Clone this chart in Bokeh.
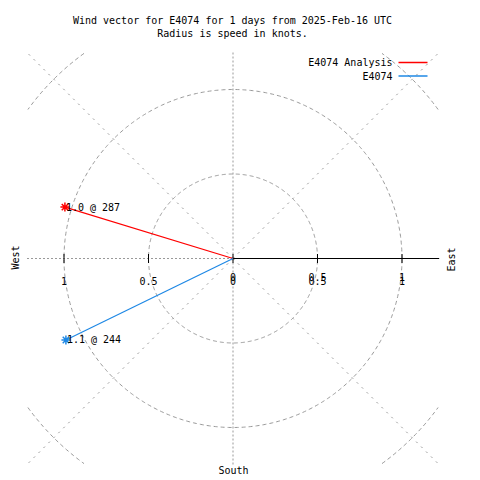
import math
from bokeh.plotting import figure
from bokeh.models import Label, ColumnDataSource
from bokeh.core.properties import value
from bokeh.embed import file_html
from bokeh.resources import INLINE

# ---- data ----
series_names = ["E4074 Analysis", "E4074"]
speeds = [1.04, 1.1]          # knots
directions = [287, 244]       # degrees (compass bearing)
series_colors = ["#ff0000", "#1e88e5"]

ring_radii = [0.5, 1.0, 1.5]
spoke_bearings = [0, 45, 90, 135, 180, 225, 270, 315]
left_tick_values = [-1.0, -0.5, 0.0]
right_tick_values = [0.0, 0.5, 1.0]
left_tick_labels = ["1", "0.5", "0"]
right_tick_labels = ["0", "0.5", "1"]

title_lines = ["Wind vector for E4074 for 1 days from 2025-Feb-16 UTC",
               "Radius is speed in knots."]
compass_labels = ["West", "East", "South"]

# ---- layout ----
W = H = 480
PX = 169.0            # pixels per knot
CX, CY = 232.5, 258   # centre of the rose in canvas pixels
B = 1.22              # half-size of the clipping box (knots)
FONT = value("DejaVu Sans Mono")
GRID = "#999999"

def dx(px):
    return (px - CX) / PX

def dy(py):
    return (CY - py) / PX

p = figure(width=W, height=H, x_range=(dx(0), dx(W)), y_range=(dy(H), dy(0)),
           x_axis_type=None, y_axis_type=None, output_backend="svg",
           toolbar_location=None, min_border=0)
p.grid.visible = False
p.outline_line_color = None
p.background_fill_color = "white"

# rings, clipped to the square box
ring_xs, ring_ys = [], []
for r in ring_radii:
    runs, cur = [], []
    for k in range(0, 721):
        a = math.radians(k * 0.5)
        x, y = r * math.cos(a), r * math.sin(a)
        if abs(x) <= B and abs(y) <= B:
            cur.append((x, y))
        else:
            if len(cur) > 1:
                runs.append(cur)
            cur = []
    if len(cur) > 1:
        runs.append(cur)
    for run in runs:
        ring_xs.append([q[0] for q in run])
        ring_ys.append([q[1] for q in run])
p.multi_line(xs=ring_xs, ys=ring_ys, line_color=GRID, line_dash="4 3", line_width=1)

# spokes to box edge (orthogonal and diagonal drawn with different dashes)
ortho = {"x": [], "y": []}
diag = {"x": [], "y": []}
for b in spoke_bearings:
    s, c = math.sin(math.radians(b)), math.cos(math.radians(b))
    t = B / max(abs(s), abs(c))
    tgt = ortho if b % 90 == 0 else diag
    tgt["x"].append(t * s)
    tgt["y"].append(t * c)
p.segment(x0=[0] * len(ortho["x"]), y0=[0] * len(ortho["y"]), x1=ortho["x"], y1=ortho["y"],
          line_color=GRID, line_dash="2 2", line_width=1)
p.segment(x0=[0] * len(diag["x"]), y0=[0] * len(diag["y"]), x1=diag["x"], y1=diag["y"],
          line_color=GRID, line_dash="2 5", line_width=1)

# black axis to the east
p.segment(x0=[0], y0=[0], x1=[B], y1=[0], line_color="black", line_width=1.2)

# ticks
ticks_all = sorted(set(left_tick_values + right_tick_values))
p.scatter(x=ticks_all, y=[0] * len(ticks_all), marker="dash", angle=math.pi / 2,
          size=9, line_color="black", line_width=1)

# tick labels (set A: all positions, set B: east side, slightly higher)
a_x = left_tick_values + right_tick_values[1:]
a_t = left_tick_labels + right_tick_labels[1:]
p.text(x=a_x, y=[0] * len(a_x), text=a_t, text_font=FONT, text_font_size="10px",
       text_align="center", text_baseline="alphabetic", y_offset=22, text_color="black")
p.text(x=right_tick_values, y=[0] * len(right_tick_values), text=right_tick_labels,
       text_font=FONT, text_font_size="10px", text_align="center",
       text_baseline="alphabetic", y_offset=18, text_color="black")

# vectors
ex = [s * math.sin(math.radians(d)) for s, d in zip(speeds, directions)]
ey = [s * math.cos(math.radians(d)) for s, d in zip(speeds, directions)]
src = ColumnDataSource(dict(x0=[0] * len(ex), y0=[0] * len(ey), x1=ex, y1=ey,
                            c=series_colors,
                            lab=[f"{s:.1f} @ {d}" for s, d in zip(speeds, directions)]))
p.segment(x0="x0", y0="y0", x1="x1", y1="y1", line_color="c", line_width=1.2, source=src)
p.scatter(x="x1", y="y1", marker="asterisk", size=9, line_color="c", line_width=1.5, source=src)
p.text(x="x1", y="y1", text="lab", text_font=FONT, text_font_size="10px",
       text_align="left", text_baseline="middle", x_offset=1, text_color="black", source=src)

# legend (label left, line right)
n = len(series_names)
leg_y = [dy(62 + 13.5 * i) for i in range(n)]
p.text(x=[dx(392)] * n, y=leg_y, text=series_names, text_font=FONT,
       text_font_size="10px", text_align="right", text_baseline="middle", text_color="black")
p.segment(x0=[dx(398)] * n, y0=leg_y, x1=[dx(427)] * n, y1=leg_y,
          line_color=series_colors, line_width=1.5)

# title
for i, line in enumerate(title_lines):
    p.add_layout(Label(x=dx(232), y=dy(20 + 13 * i), text=line, text_font="DejaVu Sans Mono",
                       text_font_size="10px", text_align="center", text_baseline="middle",
                       text_color="black"))

# compass labels
p.add_layout(Label(x=dx(15), y=dy(257), text=compass_labels[0], angle=math.pi / 2,
                   text_font="DejaVu Sans Mono", text_font_size="10px",
                   text_align="center", text_baseline="middle", text_color="black"))
p.add_layout(Label(x=dx(451), y=dy(259), text=compass_labels[1], angle=math.pi / 2,
                   text_font="DejaVu Sans Mono", text_font_size="10px",
                   text_align="center", text_baseline="middle", text_color="black"))
p.add_layout(Label(x=dx(233), y=dy(470), text=compass_labels[2],
                   text_font="DejaVu Sans Mono", text_font_size="10px",
                   text_align="center", text_baseline="middle", text_color="black"))

open("out.html", "w").write(file_html(p, INLINE))
